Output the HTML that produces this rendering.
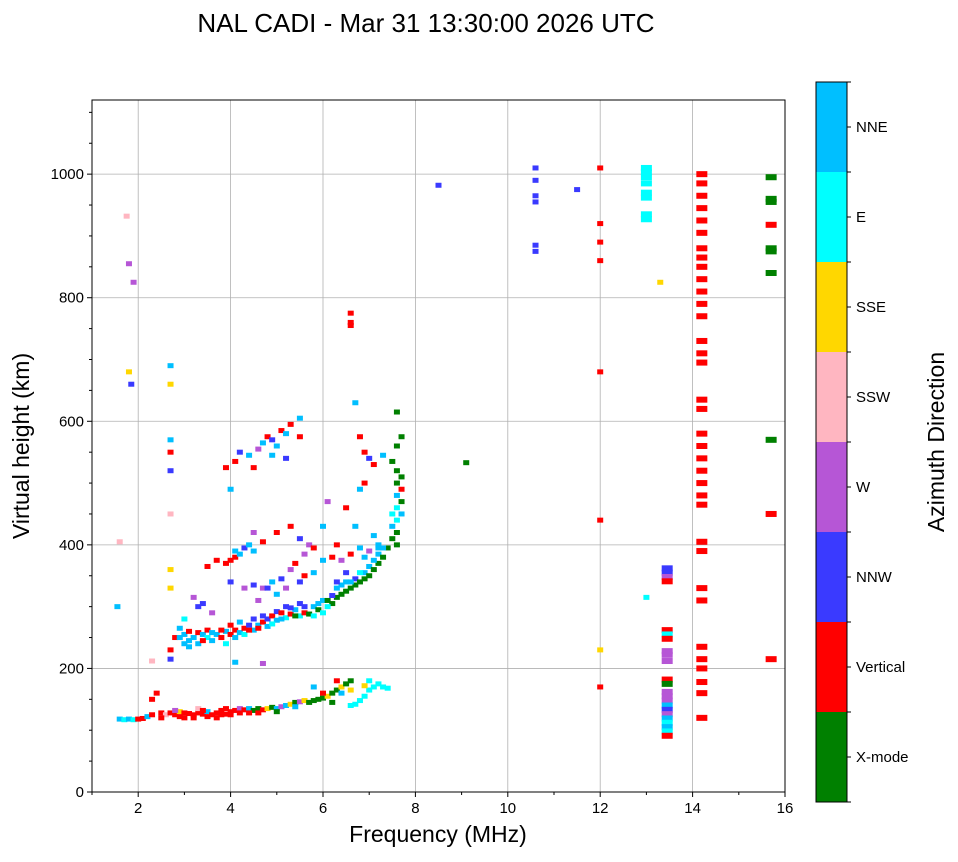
<!DOCTYPE html>
<html><head><meta charset="utf-8">
<style>
body{margin:0;background:#fff;font-family:"Liberation Sans","DejaVu Sans",sans-serif;}
svg text{font-family:"Liberation Sans","DejaVu Sans",sans-serif;}
</style></head>
<body>
<svg id="chart" width="958" height="857" viewBox="0 0 958 857" xmlns="http://www.w3.org/2000/svg">
<text x="426" y="32" font-size="26" text-anchor="middle">NAL CADI - Mar 31 13:30:00 2026 UTC</text>
<g id="grid"></g>
<g id="marks"></g>
<rect x="92" y="100" width="693" height="692" fill="none" stroke="#000" stroke-width="1"/>
<g id="axes"></g>
<text x="438" y="842" font-size="23" text-anchor="middle">Frequency (MHz)</text>
<text transform="translate(29,446) rotate(-90)" font-size="23" text-anchor="middle">Virtual height (km)</text>
<g id="colorbar"></g>
<text transform="translate(944,442) rotate(-90)" font-size="23" text-anchor="middle">Azimuth Direction</text>
</svg>
<script>
const categories = ["X-mode","Vertical","NNW","W","SSW","SSE","E","NNE"];
const catColors = ["#008000","#ff0000","#3a3aff","#b656d6","#ffb6c1","#ffd700","#00ffff","#00bfff"];
const xTicks = [2,4,6,8,10,12,14,16];
const yTicks = [0,200,400,600,800,1000];
// [freq MHz, virtual height km, category index]
const points = [
[1.6,118,7],[1.7,117,6],[1.8,118,7],[1.9,117,6],[2.0,118,1],[2.1,119,1],[2.2,122,7],[2.3,125,1],[2.3,150,1],[2.4,160,1],[2.5,128,1],[2.6,125,4],[2.7,128,1],[2.8,125,1],[2.9,130,5],[3.0,128,1],[3.1,127,1],[3.2,125,1],[3.3,128,1],[3.4,126,1],[3.5,130,7],[3.6,125,1],[3.7,128,1],[3.8,125,1],[3.9,126,1],[4.0,130,1],[4.1,132,1],[4.2,135,3],[4.3,133,1],[4.4,135,7],[4.5,132,0],[4.6,135,0],[4.7,133,1],[4.8,135,5],[4.9,137,0],[5.0,135,7],[5.1,138,3],[5.2,140,7],[5.3,142,5],[5.4,145,0],[5.5,146,3],[5.6,148,5],[5.7,145,0],[5.8,148,0],[5.9,150,0],[6.0,152,0],[6.1,155,5],[6.2,160,0],[6.3,165,0],[6.4,170,5],[6.5,175,0],[6.6,180,0],[6.6,140,6],[6.7,142,6],[6.8,148,6],[6.9,155,6],[7.0,165,6],[7.1,170,6],[7.2,175,6],[7.3,170,6],[7.4,168,6],[7.0,180,6],[5.8,170,7],[6.0,160,1],[6.3,180,1],[3.0,120,1],[3.5,122,1],[4.0,125,1],[2.8,132,3],[3.3,135,4],[3.9,135,1],
[2.5,120,1],[2.9,122,1],[3.2,120,1],[3.7,120,1],[4.2,128,1],[4.6,128,1],[5.0,130,0],[5.4,138,7],[6.2,145,0],[6.4,160,7],[6.6,165,5],[6.9,172,5],[3.4,132,1],[3.8,132,1],[4.4,128,1],
[2.7,230,1],[2.8,250,1],[2.9,265,7],[3.0,255,7],[3.0,240,7],[3.1,260,1],[3.1,245,7],[3.2,250,7],[3.3,258,1],[3.3,240,7],[3.4,255,7],[3.5,250,6],[3.5,262,1],[3.6,245,7],[3.7,255,7],[3.8,250,1],[3.9,260,7],[3.9,240,6],[4.0,255,1],[4.0,270,1],[4.1,262,1],[4.2,258,7],[4.2,275,7],[4.3,265,1],[4.4,270,2],[4.5,262,7],[4.5,280,2],[4.6,270,7],[4.7,275,1],[4.8,280,2],[4.8,268,7],[4.9,285,1],[5.0,278,7],[5.0,292,2],[5.1,290,1],[5.2,282,6],[5.2,300,2],[5.3,288,1],[5.4,295,7],[5.5,285,6],[5.5,305,2],[5.6,290,1],[5.7,288,0],[5.8,285,6],[5.8,300,7],[5.9,295,0],[6.0,290,6],[6.0,310,7],[6.1,310,0],[6.2,305,0],[6.3,315,0],[6.3,330,7],[6.4,320,0],[6.5,325,0],[6.5,340,7],[6.6,330,0],[6.7,345,2],[6.7,335,0],[6.8,340,0],[6.9,355,7],[6.9,345,0],[7.0,350,0],[7.0,365,7],[7.1,360,0],[7.2,370,0],[7.2,385,7],[7.3,380,0],[7.4,395,0],[7.5,410,0],[7.5,430,7],[7.6,400,0],[7.6,420,0],[7.6,440,6],[7.6,460,6],[7.6,480,7],[7.6,500,0],[7.7,450,7],[7.7,490,1],[7.7,510,0],[7.5,535,0],[7.6,560,0],[7.7,575,0],[7.6,615,0],[3.3,300,2],[3.4,305,2],[3.2,315,3],[3.6,290,3],[3.0,280,6],[4.6,310,3],[5.0,320,7],
[2.9,250,7],[3.1,235,7],[3.4,245,1],[3.6,258,7],[3.8,262,1],[4.1,250,7],[4.3,255,6],[4.4,262,1],[4.6,265,1],[4.7,285,2],[4.9,272,6],[5.1,280,7],[5.3,298,2],[5.4,285,0],[5.6,300,2],[5.9,305,7],[6.1,300,6],[6.2,318,2],[6.4,335,7],[6.8,355,6],[7.1,375,7],[7.3,395,7],[7.5,450,6],[7.7,470,0],[7.6,520,0],
[3.5,365,1],[3.7,375,1],[3.9,370,1],[4.0,375,1],[4.1,380,1],[4.2,385,7],[4.3,395,2],[4.4,400,7],[4.0,340,2],[4.3,330,3],[4.5,335,2],[4.7,330,3],[4.9,340,7],[5.1,345,2],[5.3,360,3],[5.0,420,1],[5.3,430,1],[5.5,410,2],[5.7,400,3],[5.8,395,1],[6.0,375,7],[6.2,380,1],[6.4,375,3],[6.6,385,1],[6.8,395,7],[7.0,390,3],[7.1,415,7],[4.7,405,1],[4.5,420,3],[5.4,370,1],[5.6,350,1],[6.5,355,2],[6.6,340,7],[6.3,400,1],[5.6,385,3],
[4.1,390,7],[4.5,390,7],[4.8,330,2],[5.2,330,3],[5.5,340,2],[5.8,355,7],[6.3,340,2],[6.9,380,7],[7.2,395,7],
[3.9,525,1],[4.1,535,1],[4.2,550,2],[4.4,545,7],[4.6,555,3],[4.7,565,7],[4.8,575,1],[4.9,570,2],[5.0,560,7],[5.1,585,1],[5.2,580,7],[5.3,595,1],[5.5,605,7],[5.5,575,1],[4.9,545,7],[4.5,525,1],[5.2,540,2],[6.6,775,1],[6.6,760,1],[6.6,755,1],[6.7,630,7],[6.8,575,1],[6.9,550,1],[7.0,540,2],[7.1,530,1],[6.9,500,1],[6.8,490,7],[7.3,545,7],[6.0,430,7],[6.1,470,3],[6.7,430,7],[6.5,460,1],[7.2,400,7],
[1.55,300,7],[1.6,405,4],[1.8,680,5],[1.85,660,2],[1.8,855,3],[1.9,825,3],[1.75,932,4],[2.7,690,7],[2.7,660,5],[2.7,570,7],[2.7,550,1],[2.7,520,2],[2.7,450,4],[2.7,360,5],[2.7,330,5],[2.7,215,2],[2.3,212,4],[4.0,490,7],[4.1,210,7],[4.7,208,3],[8.5,982,2],[9.1,533,0],[11.5,975,2],
[10.6,1010,2],[10.6,990,2],[10.6,965,2],[10.6,955,2],[10.6,885,2],[10.6,875,2],
[12.0,1010,1],[12.0,920,1],[12.0,890,1],[12.0,860,1],[12.0,680,1],[12.0,440,1],[12.0,230,5],[12.0,170,1],[13.3,825,5],[13.0,315,6]
];
// wide column bins [freq, height, category]
const columns = [
[13.0,1010,6],[13.0,1003,6],[13.0,995,6],[13.0,985,6],[13.0,970,6],[13.0,962,6],[13.0,935,6],[13.0,927,6],
[13.45,362,2],[13.45,355,2],[13.45,348,3],[13.45,341,1],[13.45,262,1],[13.45,255,6],[13.45,248,1],[13.45,228,3],[13.45,222,3],[13.45,212,3],[13.45,182,1],[13.45,175,0],[13.45,162,3],[13.45,155,3],[13.45,148,3],[13.45,140,7],[13.45,133,2],[13.45,126,3],[13.45,119,7],[13.45,112,6],[13.45,105,7],[13.45,98,6],[13.45,91,1],
[14.2,1000,1],[14.2,985,1],[14.2,965,1],[14.2,945,1],[14.2,925,1],[14.2,905,1],[14.2,880,1],[14.2,865,1],[14.2,850,1],[14.2,830,1],[14.2,810,1],[14.2,790,1],[14.2,770,1],[14.2,730,1],[14.2,710,1],[14.2,695,1],[14.2,635,1],[14.2,620,1],[14.2,580,1],[14.2,560,1],[14.2,540,1],[14.2,520,1],[14.2,500,1],[14.2,480,1],[14.2,465,1],[14.2,405,1],[14.2,390,1],[14.2,330,1],[14.2,310,1],[14.2,235,1],[14.2,215,1],[14.2,200,1],[14.2,178,1],[14.2,160,1],[14.2,120,1],
[15.7,995,0],[15.7,960,0],[15.7,955,0],[15.7,918,1],[15.7,880,0],[15.7,875,0],[15.7,840,0],[15.7,570,0],[15.7,450,1],[15.7,215,1]
];
const NS="http://www.w3.org/2000/svg";
const X0=92,X1=785,Y0=792,Y1=100,FMIN=1,FMAX=16,HMAX=1120;
const xs=f=>X0+(f-FMIN)/(FMAX-FMIN)*(X1-X0);
const ys=h=>Y0-h/HMAX*(Y0-Y1);
function mk(tag,attrs,parent){const e=document.createElementNS(NS,tag);for(const k in attrs)e.setAttribute(k,attrs[k]);parent.appendChild(e);return e;}
const grid=document.getElementById('grid'),axes=document.getElementById('axes'),marks=document.getElementById('marks'),cb=document.getElementById('colorbar');
xTicks.forEach(t=>{
 const gl=mk('line',{x1:xs(t),x2:xs(t),y1:Y1,y2:Y0,stroke:'#b0b0b0','stroke-width':0.8},grid);
 
 
 mk('line',{x1:xs(t),x2:xs(t),y1:Y0,y2:Y0+5,stroke:'#000'},axes);
 const tx=mk('text',{x:xs(t),y:Y0+21,'font-size':15,'text-anchor':'middle'},axes);tx.textContent=t;
 
 
});
for(let t=1;t<=15;t+=2){mk('line',{x1:xs(t),x2:xs(t),y1:Y0,y2:Y0+3,stroke:'#000'},axes);}
yTicks.forEach(t=>{
 const gl=mk('line',{x1:X0,x2:X1,y1:ys(t),y2:ys(t),stroke:'#b0b0b0','stroke-width':0.8},grid);
 
 
 mk('line',{x1:X0-5,x2:X0,y1:ys(t),y2:ys(t),stroke:'#000'},axes);
 const tx=mk('text',{x:X0-8,y:ys(t)+5,'font-size':15,'text-anchor':'end'},axes);tx.textContent=t;
 
 
});
for(let t=50;t<=1100;t+=50){if(t%200)mk('line',{x1:X0-3,x2:X0,y1:ys(t),y2:ys(t),stroke:'#000'},axes);}
points.forEach(p=>{
 const r=mk('rect',{x:xs(p[0])-3,y:ys(p[1])-2.5,width:6,height:5,fill:catColors[p[2]]},marks);
 
 
});
columns.forEach(p=>{
 const r=mk('rect',{x:xs(p[0])-5.5,y:ys(p[1])-3,width:11,height:6,fill:catColors[p[2]]},marks);
 
 
});
const CBX=816,CBW=31,CBT=82,CBB=802,n=categories.length,seg=(CBB-CBT)/n;
categories.forEach((c,i)=>{
 const y=CBB-(i+1)*seg;
 const r=mk('rect',{x:CBX,y:y,width:CBW,height:seg,fill:catColors[i]},cb);
 
 
 mk('line',{x1:CBX+CBW,x2:CBX+CBW+4,y1:y+seg/2,y2:y+seg/2,stroke:'#000'},cb);
 const t=mk('text',{x:CBX+CBW+9,y:y+seg/2+5,'font-size':15},cb);t.textContent=c;
 
 
});
for(let i=0;i<=n;i++){mk('line',{x1:CBX+CBW,x2:CBX+CBW+4,y1:CBT+i*seg,y2:CBT+i*seg,stroke:'#000'},cb);}
mk('rect',{x:CBX,y:CBT,width:CBW,height:CBB-CBT,fill:'none',stroke:'#000'},cb);
</script>
</body></html>
